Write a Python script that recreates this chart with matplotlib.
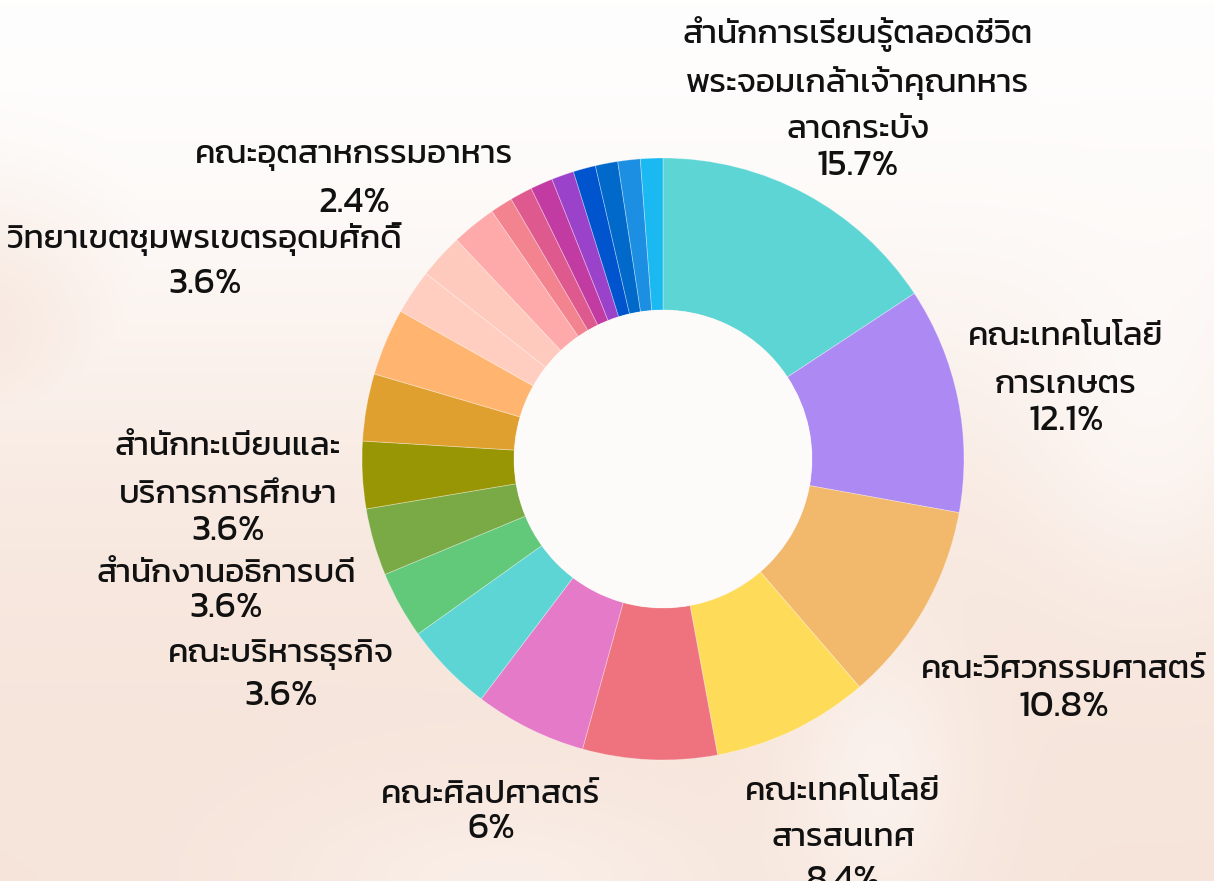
import numpy as np
import matplotlib
matplotlib.use("Agg")
import matplotlib.pyplot as plt
from matplotlib.patches import Circle

# share of each unit in percent, clockwise from 12 o'clock
values = [15.7, 12.1, 10.8, 8.4, 7.2, 6.0, 4.8, 3.6, 3.6, 3.6, 3.6, 3.6,
          2.4, 2.4, 2.4, 1.2, 1.2, 1.2, 1.2, 1.2, 1.2, 1.2, 1.2]
colors = ["#5DD5D4", "#AD8AF3", "#F2B86B", "#FEDC59", "#EE737F", "#E57AC8",
          "#5DD5D4", "#62C87A", "#7AAA45", "#999605", "#E0A030", "#FFB570",
          "#FFCEC0", "#FFCABE", "#FFAAAA", "#F2838F", "#DE5A8E", "#C23BA2",
          "#9B42CA", "#0055CF", "#0069C9", "#1C8FE2", "#1BB9F2"]
# names shown next to the ring (None = label hidden in the original)
names = ["สำนักการเรียนรู้ตลอดชีวิต\nพระจอมเกล้าเจ้าคุณทหาร\nลาดกระบัง",
         "คณะเทคโนโลยี\nการเกษตร",
         "คณะวิศวกรรมศาสตร์",
         "คณะเทคโนโลยี\nสารสนเทศ",
         None,
         "คณะศิลปศาสตร์",
         None,
         "คณะบริหารธุรกิจ",
         "สำนักงานอธิการบดี",
         "สำนักทะเบียนและ\nบริการการศึกษา",
         None,
         "วิทยาเขตชุมพรเขตรอุดมศักดิ์",
         None, None,
         "คณะอุตสาหกรรมอาหาร",
         None, None, None, None, None, None, None, None]

# label placement in pixels: centre x and baseline of every line (name lines, then percent)
label_pos = {
    0: (858, [43, 92, 138, 175]),
    1: (1066, [345, 393, 430]),
    2: (1064, [678, 716]),
    3: (843, [800, 846, 890]),
    5: (491, [803, 838]),
    7: (281, [662, 705]),
    8: (226, [582, 617]),
    9: (228, [455, 503, 540]),
    11: (205, [248, 293]),
    14: (354, [163, 212]),
}

W, H = 1214, 881

plt.rcParams['font.family'] = ['Kanit', 'DejaVu Sans']

fig = plt.figure(figsize=(W / 100, H / 100), dpi=100)
ax = fig.add_axes([0, 0, 1, 1])

# soft watercolour-like background: white top, peach wash lower down
yy, xx = np.mgrid[0:H, 0:W].astype(float)
wash = 0.85 / (1 + np.exp(-(yy - 360) / 110))
wash = np.maximum(wash, 0.7 * np.exp(-(((xx + 40) / 200) ** 2 + ((yy - 330) / 160) ** 2)))
wash -= 0.4 * np.exp(-(((xx - 880) / 90) ** 2 + ((yy - 780) / 140) ** 2))
wash -= 0.3 * np.exp(-(((xx - 500) / 220) ** 2 + ((yy - 880) / 90) ** 2))
wash -= 0.3 * np.exp(-(((xx - 1150) / 120) ** 2 + ((yy - 450) / 160) ** 2))
wash = np.clip(wash, 0, 1)[..., None]
peach = np.array([245, 224, 212]) / 255
bg = (1 - wash) + wash * peach
ax.imshow(bg, extent=(0, W, 0, H), origin='upper', zorder=0)

cx, cy, r = 663, H - 459, 301
ax.pie(values, colors=colors, startangle=90, counterclock=False,
       center=(cx, cy), radius=r,
       wedgeprops=dict(width=r * 0.505, edgecolor=(1, 1, 1, 0.35), linewidth=0.6))
ax.add_patch(Circle((cx, cy), r * 0.495, facecolor='#FDFBFA', edgecolor='none', zorder=1))

for i, (x, ys) in label_pos.items():
    lines = names[i].split("\n")
    for text, y in zip(lines, ys):
        ax.text(x, H - y, text, ha='center', va='baseline', fontsize=24, color='#111111')
    ax.text(x, H - ys[-1], f"{values[i]:g}%", ha='center', va='baseline',
            fontsize=26.5, color='#111111')

ax.set_xlim(0, W)
ax.set_ylim(0, H)
ax.set_aspect('equal')
ax.axis('off')

plt.savefig("out.png", dpi=100)
